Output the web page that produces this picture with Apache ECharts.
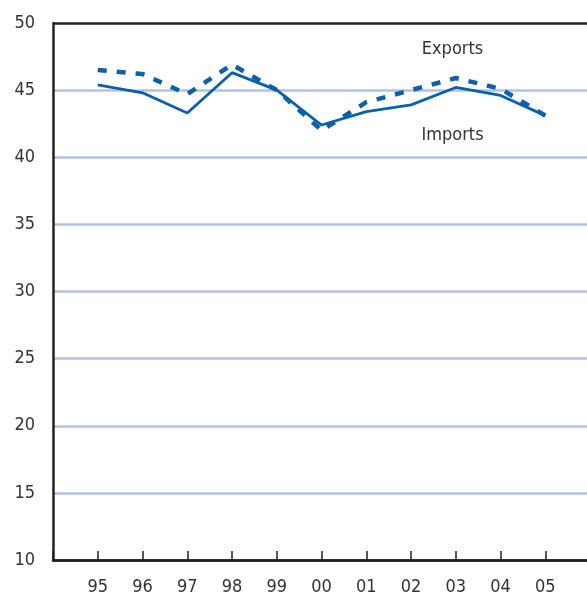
<!DOCTYPE html>
<html>
<head>
<meta charset="utf-8">
<script src="https://cdn.jsdelivr.net/npm/echarts@6/dist/echarts.min.js"></script>
<style>
html,body{margin:0;padding:0;background:#fff;}
#chart{width:587px;height:597px;}
</style>
</head>
<body>
<div id="chart"></div>
<script>
var years = ['95','96','97','98','99','00','01','02','03','04','05'];
var exportsVals = [46.5, 46.2, 44.7, 46.9, 45.0, 42.0, 44.1, 45.0, 45.9, 45.1, 43.1];
var importsVals = [45.4, 44.8, 43.3, 46.3, 45.0, 42.4, 43.4, 43.9, 45.2, 44.6, 43.1];
var yTicks = [10, 15, 20, 25, 30, 35, 40, 45, 50];

var FONT = '"DejaVu Sans Condensed", "Liberation Sans Narrow", "Open Sans", sans-serif';
var BLUE = '#0b60a9';

function pairs(vals){ return vals.map(function(v,i){ return [i, v]; }); }

var chart = echarts.init(document.getElementById('chart'));
chart.setOption({
  animation: false,
  backgroundColor: '#fff',
  grid: {left: 53, top: 23, right: 0, bottom: 37, containLabel: false},
  xAxis: {
    type: 'value', min: -1, max: 10.93, interval: 1,
    axisLine: {show: true, onZero: false, lineStyle: {color: '#222', width: 2.5}},
    axisTick: {show: true, inside: true, length: 9, lineStyle: {color: '#222', width: 1.5}},
    splitLine: {show: false},
    axisLabel: {
      margin: 18, color: '#333', fontSize: 18, fontFamily: FONT,
      showMaxLabel: false,
      formatter: function(v){ return (v >= 0 && v < years.length) ? years[v] : ''; }
    }
  },
  yAxis: {
    type: 'value', min: yTicks[0], max: yTicks[yTicks.length-1], interval: 5,
    axisLine: {show: true, onZero: false, lineStyle: {color: '#222', width: 2.5}},
    axisTick: {show: false},
    axisLabel: {margin: 18, color: '#333', fontSize: 18, fontFamily: FONT},
    splitLine: {show: true, lineStyle: {
      color: ['#222','#b6c0e2','#b6c0e2','#b6c0e2','#b6c0e2','#b6c0e2','#b6c0e2','#b6c0e2','#222'],
      width: 2.5
    }}
  },
  series: [
    {
      name: 'Exports', type: 'line', data: pairs(exportsVals), symbol: 'none',
      lineStyle: {color: BLUE, width: 4.5, type: [9, 10], cap: 'butt'}
    },
    {
      name: 'Imports', type: 'line', data: pairs(importsVals), symbol: 'none',
      lineStyle: {color: BLUE, width: 2.8}
    }
  ],
  graphic: [
    {type: 'text', x: 452.5, y: 49, style: {text: 'Exports', fill: '#333', font: '18px ' + FONT, textAlign: 'center', textVerticalAlign: 'middle'}},
    {type: 'text', x: 452.5, y: 135, style: {text: 'Imports', fill: '#333', font: '18px ' + FONT, textAlign: 'center', textVerticalAlign: 'middle'}}
  ]
});
</script>
</body>
</html>
